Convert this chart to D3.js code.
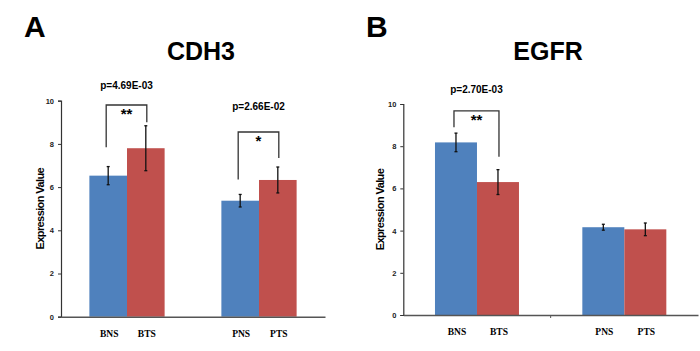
<!DOCTYPE html>
<html>
<head>
<meta charset="utf-8">
<script src="https://cdn.jsdelivr.net/npm/d3@7"></script>
<style>
  body { margin: 0; background: #fff; }
  svg { display: block; }
</style>
</head>
<body>
<script>
// data
const groups = ["B", "P"]
const series = ["N", "T"]
const barLabels = [["BNS", "BTS"], ["PNS", "PTS"]]
const yTicks = [0, 2, 4, 6, 8, 10]

const cdh3Values = [[6.53, 7.80], [5.37, 6.33]]
const cdh3Errors = [[0.42, 1.04], [0.29, 0.60]]
const cdh3PValues = ["p=4.69E-03", "p=2.66E-02"]
const cdh3Stars = ["**", "*"]

const egfrValues = [[8.18, 6.30], [4.16, 4.06]]
const egfrErrors = [[0.44, 0.59], [0.14, 0.30]]
const egfrPValues = ["p=2.70E-03", null]
const egfrStars = ["**", null]

const blue = "#4f81bd"
const red = "#c0504d"

const width = 700
const height = 351

var svg = d3.select("body").append("svg")
    .attr("width", width)
    .attr("height", height)

function panel(opt) {
    var g = svg.append("g")

    var x = d3.scaleBand()
        .domain(groups)
        .range([opt.x0, opt.x1])
        .paddingInner(0.43)
        .paddingOuter(0.215)

    var xs = d3.scaleBand()
        .domain(series)
        .range([0, x.bandwidth()])

    var y = d3.scaleLinear()
        .domain([0, 10])
        .range([opt.y0, opt.y1])

    var color = d3.scaleOrdinal().domain(series).range([blue, red])

    // panel letter + title
    g.append("text")
        .attr("x", opt.letterX).attr("y", 37)
        .style("font", "bold 30px 'Liberation Sans', Arial, sans-serif")
        .text(opt.letter)
    g.append("text")
        .attr("x", opt.titleX).attr("y", 60)
        .attr("text-anchor", "middle")
        .style("font", "bold 25px 'Liberation Sans', Arial, sans-serif")
        .text(opt.title)

    // bars
    var rows = []
    groups.forEach((grp, i) => {
        series.forEach((s, j) => {
            rows.push({ grp: grp, s: s, i: i, j: j, v: opt.values[i][j], e: opt.errors[i][j], label: barLabels[i][j] })
        })
    })

    g.selectAll("rect.bar")
        .data(rows)
        .enter()
        .append("rect")
            .attr("class", "bar")
            .attr("x", (d) => x(d.grp) + xs(d.s))
            .attr("width", xs.bandwidth())
            .attr("y", (d) => y(d.v))
            .attr("height", (d) => y(0) - y(d.v))
            .style("fill", (d) => color(d.s))

    // error bars
    var eb = g.selectAll("g.err")
        .data(rows)
        .enter()
        .append("g")
        .attr("transform", (d) => "translate(" + (x(d.grp) + xs(d.s) + xs.bandwidth() / 2) + ",0)")
    eb.append("line")
        .attr("y1", (d) => y(d.v - d.e)).attr("y2", (d) => y(d.v + d.e))
        .attr("stroke", "#111").attr("stroke-width", 1.3)
    eb.append("line")
        .attr("x1", -1.5).attr("x2", 1.5)
        .attr("y1", (d) => y(d.v + d.e)).attr("y2", (d) => y(d.v + d.e))
        .attr("stroke", "#111").attr("stroke-width", 1.3)
    eb.append("line")
        .attr("x1", -1.5).attr("x2", 1.5)
        .attr("y1", (d) => y(d.v - d.e)).attr("y2", (d) => y(d.v - d.e))
        .attr("stroke", "#111").attr("stroke-width", 1.3)

    // y axis
    var yAxis = g.append("g")
        .attr("transform", "translate(" + opt.x0 + ",0)")
        .call(d3.axisLeft(y).tickValues(yTicks).tickSize(3).tickPadding(4))
    yAxis.select(".domain").attr("stroke", "#333").attr("stroke-width", 1.2)
    yAxis.selectAll(".tick line").attr("stroke", "#333")
    yAxis.selectAll("text")
        .style("font", "bold 7.5px 'Liberation Sans', Arial, sans-serif")
        .attr("fill", "#222")

    // x axis
    var xAxis = g.append("g")
        .attr("transform", "translate(0," + opt.y0 + ")")
        .call(d3.axisBottom(x).tickValues([]).tickSizeOuter(0))
    xAxis.select(".domain").attr("stroke", "#555").attr("stroke-width", 1.5)
    if (opt.midTick) {
        xAxis.append("line")
            .attr("x1", (opt.x0 + opt.x1) / 2).attr("x2", (opt.x0 + opt.x1) / 2)
            .attr("y1", 0).attr("y2", 3)
            .attr("stroke", "#555")
    }

    // category labels
    g.selectAll("text.cat")
        .data(rows)
        .enter()
        .append("text")
            .attr("class", "cat")
            .attr("x", (d) => x(d.grp) + xs(d.s) + xs.bandwidth() / 2 + 1)
            .attr("y", opt.y0 + 20)
            .attr("text-anchor", "middle")
            .style("font", "bold 9.5px 'Liberation Serif', 'Times New Roman', serif")
            .text((d) => d.label)

    // y label
    g.append("text")
        .attr("transform", "translate(" + opt.ylabX + "," + ((opt.y0 + opt.y1) / 2) + ") rotate(-90)")
        .attr("text-anchor", "middle")
        .style("font", "bold 11px 'Liberation Sans', Arial, sans-serif")
        .style("letter-spacing", "-0.6px")
        .text("Expression Value")

    // significance brackets
    opt.brackets.forEach((b, i) => {
        if (!opt.pvals[i]) return
        var cx0 = x(groups[i]) + xs(series[0]) + xs.bandwidth() / 2 - 2
        var cx1 = x(groups[i]) + xs(series[1]) + xs.bandwidth() / 2 + 1
        var top = y(b.top)
        g.append("path")
            .attr("d", "M" + cx0 + "," + y(b.left) + "V" + top + "H" + cx1 + "V" + y(b.right))
            .attr("fill", "none").attr("stroke", "#333").attr("stroke-width", 1.3)
        g.append("text")
            .attr("x", (cx0 + cx1) / 2).attr("y", top + 14)
            .attr("text-anchor", "middle")
            .style("font", "bold 15px 'Liberation Sans', Arial, sans-serif")
            .text(opt.stars[i])
        g.append("text")
            .attr("x", (cx0 + cx1) / 2).attr("y", y(b.ptext))
            .attr("text-anchor", "middle")
            .style("font", "bold 10px 'Liberation Sans', Arial, sans-serif")
            .text(opt.pvals[i])
    })
}

panel({
    letter: "A", letterX: 24, title: "CDH3", titleX: 201,
    x0: 61, x1: 325, y0: 316.7, y1: 100.7, ylabX: 44,
    values: cdh3Values, errors: cdh3Errors, pvals: cdh3PValues, stars: cdh3Stars,
    brackets: [{ top: 9.80, left: 7.85, right: 9.0, ptext: 10.55 }, { top: 8.55, left: 6.35, right: 7.35, ptext: 9.55 }],
    midTick: false
})

panel({
    letter: "B", letterX: 366, title: "EGFR", titleX: 548,
    x0: 403.3, x1: 698, y0: 315, y1: 104, ylabX: 384,
    values: egfrValues, errors: egfrErrors, pvals: egfrPValues, stars: egfrStars,
    brackets: [{ top: 9.67, left: 8.9, right: 7.5, ptext: 10.5 }, {}],
    midTick: true
})
</script>
</body>
</html>
